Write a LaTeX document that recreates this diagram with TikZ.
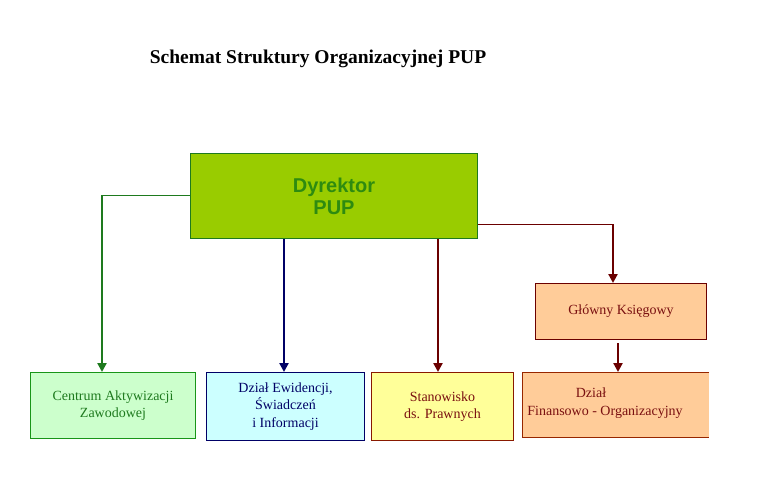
\documentclass[tikz,border=0pt]{standalone}
\usepackage{fontspec}
\setmainfont{Liberation Serif}
\newfontfamily\dirfont{Liberation Sans}
\usetikzlibrary{arrows.meta}
\definecolor{dirfill}{HTML}{99CC00}
\definecolor{dirtext}{HTML}{2E8B10}
\definecolor{gline}{HTML}{1E7A1E}
\definecolor{bline}{HTML}{000066}
\definecolor{rline}{HTML}{6B0000}
\definecolor{lgreen}{HTML}{CCFFCC}
\definecolor{lcyan}{HTML}{CCFFFF}
\definecolor{lyellow}{HTML}{FFFF99}
\definecolor{lorange}{HTML}{FFCC99}
\definecolor{rtext}{HTML}{7A1010}
\tikzset{
  box/.style={draw, line width=1pt, anchor=north west, inner sep=0pt, align=center,
    font=\fontsize{14}{17.5}\selectfont},
  arr/.style={line width=2.6pt, -{Triangle[width=9pt,length=9pt]}},
}
\begin{document}
\begin{tikzpicture}[x=1pt,y=-1pt]
\useasboundingbox (0,0) rectangle (757,490);
\fill[white] (0,0) rectangle (757,490);
\node[font=\bfseries\fontsize{19.5}{22}\selectfont] (title) at (318,59) {Schemat Struktury Organizacyjnej PUP};
% director
\node[box, draw=gline, fill=dirfill, minimum width=287pt, minimum height=85pt,
  font=\dirfont\bfseries\fontsize{20}{22}\selectfont, text=dirtext] (dir) at (190,153) {Dyrektor\\PUP};
% bottom boxes
\node[box, draw=gline!80!green, fill=lgreen, text=gline, minimum width=165pt, minimum height=66pt] (caz) at (30,372) {Centrum Aktywizacji\\Zawodowej};
\node[box, draw=bline, fill=lcyan, text=bline, minimum width=158pt, minimum height=68pt] (dew) at (206,372) {Dział Ewidencji,\\Świadczeń\\i Informacji};
\node[box, draw=rline!80!orange, fill=lyellow, text=rtext, minimum width=142pt, minimum height=68pt] (spr) at (371,372) {Stanowisko\\ds. Prawnych};
\node[box, draw=rline, fill=lorange, text=rtext, minimum width=171pt, minimum height=56pt] (gk) at (535,283) {Główny Księgowy};
\fill[lorange] (522,372) rectangle (709,437);
\draw[rline!70!orange, line width=1pt] (709,372) -- (522,372) -- (522,437) -- (709,437);
\node[text=rtext, font=\fontsize{14}{17.5}\selectfont, align=center] (dfo) at (605,403) {\hspace*{-28pt}Dział\\Finansowo - Organizacyjny};
\coordinate (dfotop) at (618,372);
% connectors
\coordinate (gc) at (102,195);
\draw[gline, line width=1pt] (dir.west |- gc) -- (gc);
\draw[gline, arr] (gc) -- (caz.north -| gc);
\draw[bline, arr] (dir.south -| 284,0) -- (dew.north -| 284,0);
\draw[rline, arr] (dir.south -| 438,0) -- (spr.north -| 438,0);
\coordinate (rc) at (613,224);
\draw[rline, line width=1pt] (dir.east |- rc) -- (rc);
\draw[rline, arr] (rc) -- (gk.north -| rc);
\draw[rline, arr] (gk.south -| 618,0) ++(0,3) -- (dfotop);
\end{tikzpicture}
\end{document}
